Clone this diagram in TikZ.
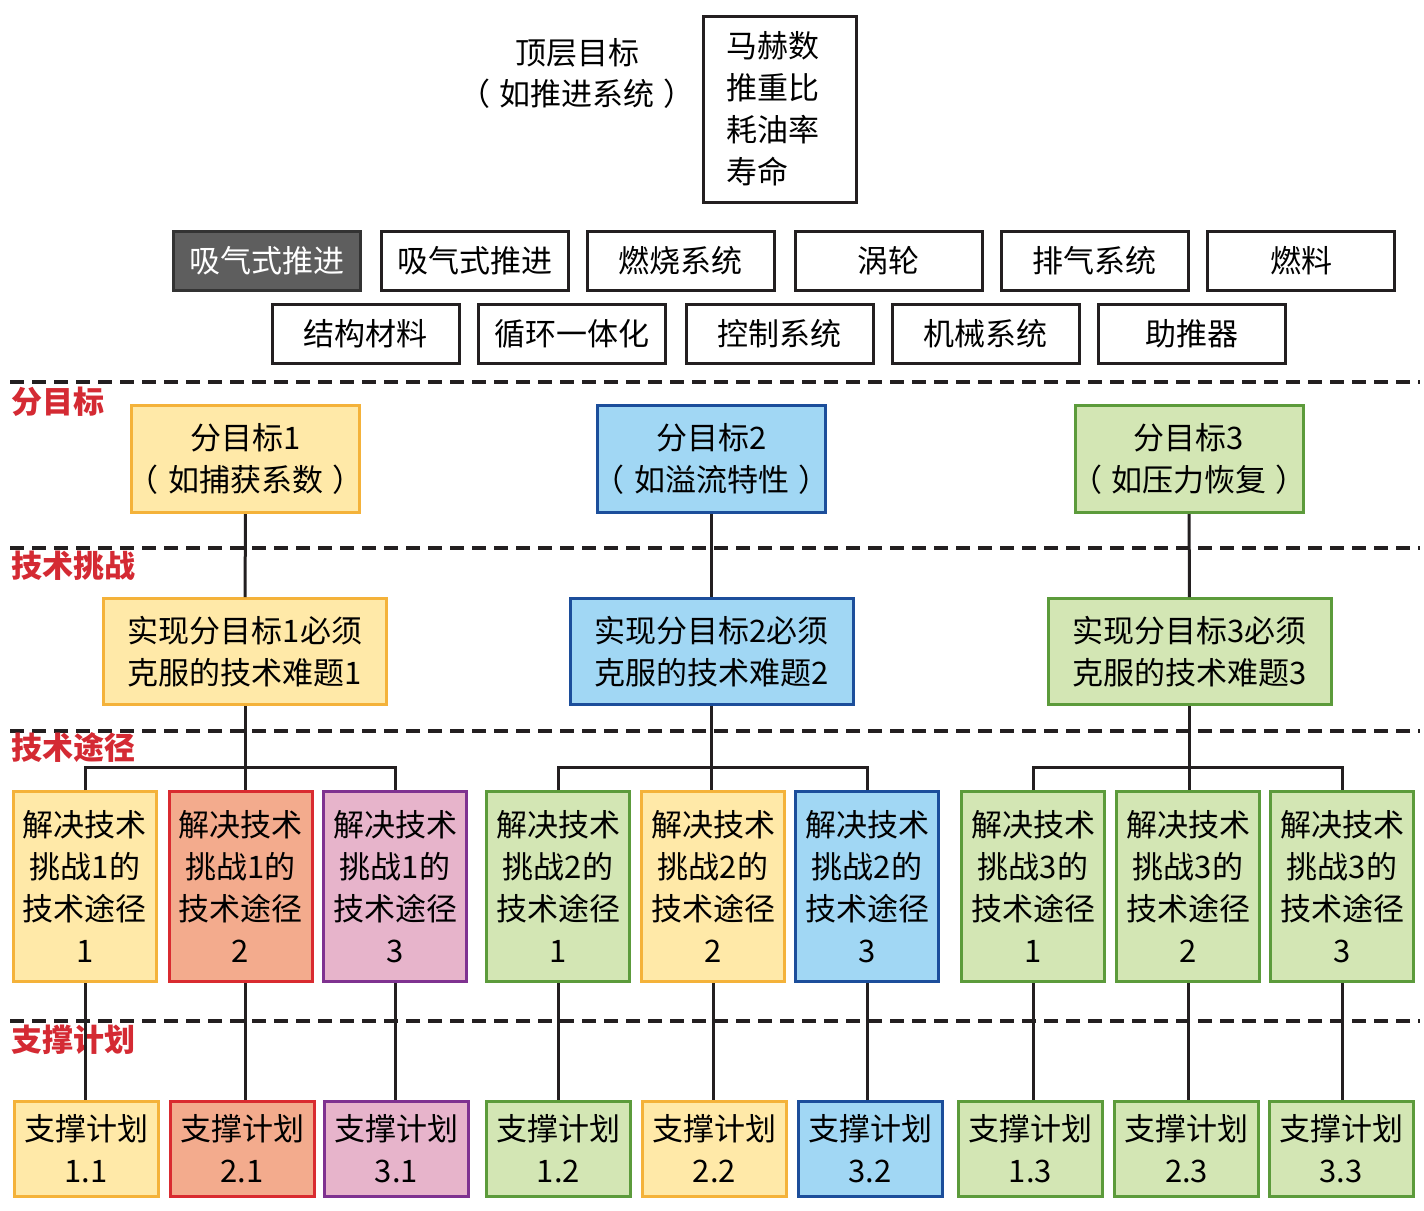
\documentclass[tikz,border=0pt]{standalone}
\usepackage{fontspec}
\setmainfont{Noto Sans CJK SC}
\usetikzlibrary{positioning}

\definecolor{linegray}{HTML}{231F20}
\definecolor{darkfill}{HTML}{5E5E5E}
\definecolor{labred}{HTML}{D42A33}
\definecolor{yelfill}{HTML}{FFE9A8}
\definecolor{yelline}{HTML}{F4B23A}
\definecolor{redfill}{HTML}{F3AB8D}
\definecolor{redline}{HTML}{D92B30}
\definecolor{pinkfill}{HTML}{E7B4CB}
\definecolor{pinkline}{HTML}{7F3290}
\definecolor{grnfill}{HTML}{D3E6B4}
\definecolor{grnline}{HTML}{5C9B3B}
\definecolor{bluefill}{HTML}{A1D7F4}
\definecolor{blueline}{HTML}{1C4E9B}

% bracketed line, kept narrow so the box keeps its width
\newcommand\inparen[1]{\makebox[200pt]{（\kern.3em#1\kern.3em）}}

\tikzset{
  box/.style={draw, line width=3pt, inner sep=0pt, align=center,
    font=\fontsize{31}{42}\selectfont},
  sysbox/.style={box, draw=linegray, minimum width=187pt, minimum height=59pt},
  goalbox/.style={box, minimum width=228pt, minimum height=107pt},
  hardbox/.style={box, minimum width=283pt, minimum height=106pt},
  waybox/.style={box, minimum width=143pt, minimum height=190pt},
  planbox/.style={box, minimum width=144pt, minimum height=95pt},
  yel/.style={fill=yelfill, draw=yelline},
  red/.style={fill=redfill, draw=redline},
  pink/.style={fill=pinkfill, draw=pinkline},
  grn/.style={fill=grnfill, draw=grnline},
  blu/.style={fill=bluefill, draw=blueline},
  level/.style={anchor=west, inner sep=0pt, text=labred,
    font=\bfseries\fontsize{31}{36}\selectfont},
  sepline/.style={draw=linegray, line width=4pt, dash pattern=on 14pt off 8pt},
  link/.style={draw=linegray, line width=3pt}
}

\begin{document}
\begin{tikzpicture}[x=1pt,y=-1pt]
\useasboundingbox (0,0) rectangle (1424,1210);

% top goal
\node[align=center, font=\fontsize{31}{41}\selectfont] (top) at (577,73)
  {顶层目标\\\inparen{如推进系统}};
\node[box, draw=linegray, minimum width=153pt, minimum height=186pt,
  text width=108pt, align=left] (metric) at (780,109)
  {马赫数\\推重比\\耗油率\\寿命};

% systems
\node[sysbox, fill=darkfill, draw=black!80, text=white] (s1) at (266.5,261) {吸气式推进};
\node[sysbox] (s2) at (474.5,261) {吸气式推进};
\node[sysbox] (s3) at (680.5,261) {燃烧系统};
\node[sysbox] (s4) at (888.5,261) {涡轮};
\node[sysbox] (s5) at (1094.5,261) {排气系统};
\node[sysbox] (s6) at (1301,261) {燃料};
\node[sysbox] (s7) at (365.5,333.5) {结构材料};
\node[sysbox] (s8) at (571.5,333.5) {循环一体化};
\node[sysbox] (s9) at (779.5,333.5) {控制系统};
\node[sysbox] (s10) at (985.5,333.5) {机械系统};
\node[sysbox] (s11) at (1191.5,333.5) {助推器};

% levels
\draw[sepline] (10,382) -- (1420,382);
\draw[sepline] (10,548) -- (1420,548);
\draw[sepline] (10,731) -- (1420,731);
\draw[sepline] (10,1021) -- (1420,1021);
\node[level] (lv1) at (11,402) {分目标};
\node[level] (lv2) at (11,566) {技术挑战};
\node[level] (lv3) at (11,748) {技术途径};
\node[level] (lv4) at (11,1040) {支撑计划};

% sub goals
\node[goalbox, yel] (g1) at (245.5,459) {分目标1\\\inparen{如捕获系数}};
\node[goalbox, blu] (g2) at (711.5,459) {分目标2\\\inparen{如溢流特性}};
\node[goalbox, grn] (g3) at (1189,459) {分目标3\\\inparen{如压力恢复}};

% challenges
\node[hardbox, yel] (c1) at (245,651.5) {实现分目标1必须\\克服的技术难题1};
\node[hardbox, blu] (c2) at (711.5,651.5) {实现分目标2必须\\克服的技术难题2};
\node[hardbox, grn] (c3) at (1189.5,651.5) {实现分目标3必须\\克服的技术难题3};

% ways
\node[waybox, yel] (w11) at (85,886.5) {解决技术\\挑战1的\\技术途径\\1};
\node[waybox, red] (w12) at (240.5,886.5) {解决技术\\挑战1的\\技术途径\\2};
\node[waybox, pink] (w13) at (395,886.5) {解决技术\\挑战1的\\技术途径\\3};
\node[waybox, grn] (w21) at (558,886.5) {解决技术\\挑战2的\\技术途径\\1};
\node[waybox, yel] (w22) at (713,886.5) {解决技术\\挑战2的\\技术途径\\2};
\node[waybox, blu] (w23) at (867,886.5) {解决技术\\挑战2的\\技术途径\\3};
\node[waybox, grn] (w31) at (1033,886.5) {解决技术\\挑战3的\\技术途径\\1};
\node[waybox, grn] (w32) at (1188,886.5) {解决技术\\挑战3的\\技术途径\\2};
\node[waybox, grn] (w33) at (1342,886.5) {解决技术\\挑战3的\\技术途径\\3};

% plans
\node[planbox, yel] (p11) at (86,1149) {支撑计划\\1.1};
\node[planbox, red] (p21) at (242,1149) {支撑计划\\2.1};
\node[planbox, pink] (p31) at (396.5,1149) {支撑计划\\3.1};
\node[planbox, grn] (p12) at (558.5,1149) {支撑计划\\1.2};
\node[planbox, yel] (p22) at (714.5,1149) {支撑计划\\2.2};
\node[planbox, blu] (p32) at (870,1149) {支撑计划\\3.2};
\node[planbox, grn] (p13) at (1030.5,1149) {支撑计划\\1.3};
\node[planbox, grn] (p23) at (1186.5,1149) {支撑计划\\2.3};
\node[planbox, grn] (p33) at (1341,1149) {支撑计划\\3.3};

% links
\draw[link] (g1) -- (c1);
\draw[link] (g2) -- (c2);
\draw[link] (g3) -- (c3);
\draw[link] (c1.south) -- (c1.south |- w12.north);
\draw[link] (c2.south) -- (c2.south |- w22.north);
\draw[link] (c3.south) -- (c3.south |- w32.north);
\draw[link] (w11.north) -- ++(0,-23) -| (w13.north);
\draw[link] (w21.north) -- ++(0,-23) -| (w23.north);
\draw[link] (w31.north) -- ++(0,-23) -| (w33.north);
\draw[link] (w11.south) -- (w11.south |- p11.north);
\draw[link] (c1.south |- w12.south) -- (c1.south |- p21.north);
\draw[link] (w13.south) -- (w13.south |- p31.north);
\draw[link] (w21.south) -- (w21.south |- p12.north);
\draw[link] (w22.south) -- (w22.south |- p22.north);
\draw[link] (w23.south) -- (w23.south |- p32.north);
\draw[link] (w31.south) -- (w31.south |- p13.north);
\draw[link] (w32.south) -- (w32.south |- p23.north);
\draw[link] (w33.south) -- (w33.south |- p33.north);
\end{tikzpicture}
\end{document}
